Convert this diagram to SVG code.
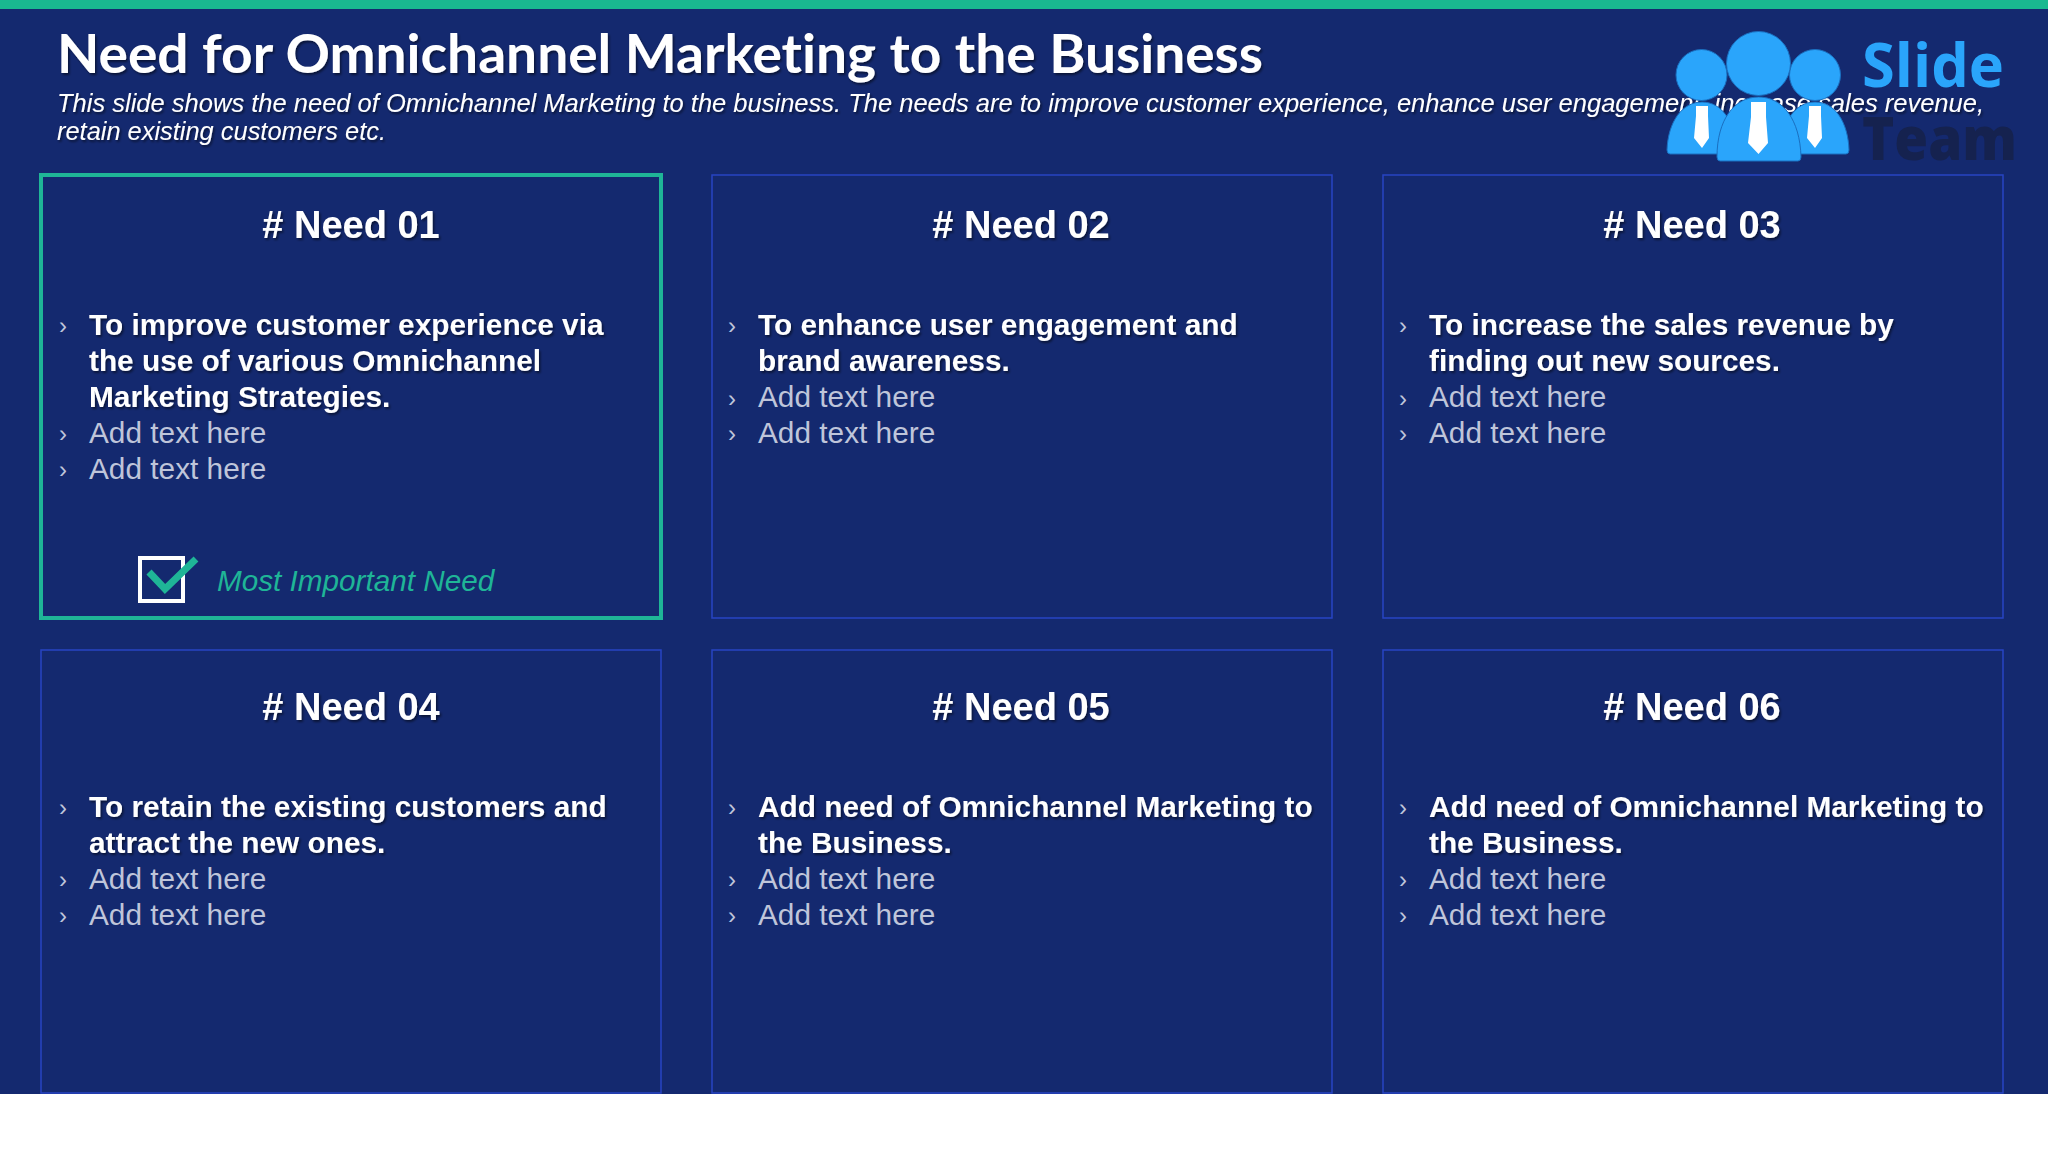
<svg xmlns="http://www.w3.org/2000/svg" width="2048" height="1152" viewBox="0 0 2048 1152">
<defs>
<filter id="sh" x="-5%" y="-20%" width="110%" height="150%"><feDropShadow dx="1.5" dy="2" stdDeviation="1.2" flood-color="#000" flood-opacity="0.5"/></filter>
</defs>
<style>
.card{fill:#14296f;stroke:#2744c4;stroke-width:1.5}
.hd{font:bold 38px "Liberation Sans",Arial,sans-serif;fill:#fff;text-anchor:middle;filter:url(#sh)}
.b{font:bold 29.8px "Liberation Sans",Arial,sans-serif;fill:#fff;filter:url(#sh)}
.a{font:29.8px "Liberation Sans",Arial,sans-serif;fill:#bfc5da}
.m{font:24px "Liberation Sans",Arial,sans-serif;fill:#bfc5da}
.sub{font:italic 26px "Liberation Sans",Arial,sans-serif;fill:#fff;filter:url(#sh)}
.logo{fill:#2aa5fb;stroke:#1a6fc0;stroke-width:1}
</style>
<rect width="2048" height="1152" fill="#fff"/>
<rect width="2048" height="1094" fill="#14296f"/>
<rect width="2048" height="9" fill="#19b890"/>
<g id="title">
<text x="57" y="73" font-family="Lato,'Open Sans',sans-serif" font-weight="700" font-size="54" fill="#fff" textLength="1206" lengthAdjust="spacingAndGlyphs" style="font-variant-ligatures:none" filter="url(#sh)">Need for Omnichannel Marketing to the Business</text>
<text class="sub" x="57" y="112" textLength="1927" lengthAdjust="spacingAndGlyphs">This slide shows the need of Omnichannel Marketing to the business. The needs are to improve customer experience, enhance user engagement, increase sales revenue,</text>
<text class="sub" x="57" y="140" textLength="329" lengthAdjust="spacingAndGlyphs">retain existing customers etc.</text>
</g>
<g id="need-01">
<rect x="41" y="175" width="620" height="443" fill="#14296f" stroke="#1fb597" stroke-width="4"/>
<text class="hd" x="351" y="238"># Need 01</text>
<text class="m" x="59" y="334">›</text><text class="b" x="89" y="335">To improve customer experience via</text>
<text class="b" x="89" y="371">the use of various Omnichannel</text>
<text class="b" x="89" y="407">Marketing Strategies.</text>
<text class="m" x="59" y="442">›</text><text class="a" x="89" y="443">Add text here</text>
<text class="m" x="59" y="478">›</text><text class="a" x="89" y="479">Add text here</text>
<rect x="140" y="558" width="43" height="43" fill="none" stroke="#fff" stroke-width="4"/>
<path d="M149 572L165 589L196 559" fill="none" stroke="#1fb597" stroke-width="7"/>
<text x="217" y="591" font-family="'Liberation Sans',Arial,sans-serif" font-style="italic" font-size="29.7" fill="#1fb597">Most Important Need</text>
</g>
<g id="need-02">
<rect class="card" x="712" y="175" width="620" height="443"/>
<text class="hd" x="1021" y="238"># Need 02</text>
<text class="m" x="728" y="334">›</text><text class="b" x="758" y="335">To enhance user engagement and</text>
<text class="b" x="758" y="371">brand awareness.</text>
<text class="m" x="728" y="407">›</text><text class="a" x="758" y="407">Add text here</text>
<text class="m" x="728" y="442">›</text><text class="a" x="758" y="443">Add text here</text>
</g>
<g id="need-03">
<rect class="card" x="1383" y="175" width="620" height="443"/>
<text class="hd" x="1692" y="238"># Need 03</text>
<text class="m" x="1399" y="334">›</text><text class="b" x="1429" y="335">To increase the sales revenue by</text>
<text class="b" x="1429" y="371">finding out new sources.</text>
<text class="m" x="1399" y="407">›</text><text class="a" x="1429" y="407">Add text here</text>
<text class="m" x="1399" y="442">›</text><text class="a" x="1429" y="443">Add text here</text>
</g>
<g id="need-04">
<rect class="card" x="41" y="650" width="620" height="443"/>
<text class="hd" x="351" y="720"># Need 04</text>
<text class="m" x="59" y="816">›</text><text class="b" x="89" y="817">To retain the existing customers and</text>
<text class="b" x="89" y="853">attract the new ones.</text>
<text class="m" x="59" y="888">›</text><text class="a" x="89" y="889">Add text here</text>
<text class="m" x="59" y="924">›</text><text class="a" x="89" y="925">Add text here</text>
</g>
<g id="need-05">
<rect class="card" x="712" y="650" width="620" height="443"/>
<text class="hd" x="1021" y="720"># Need 05</text>
<text class="m" x="728" y="816">›</text><text class="b" x="758" y="817">Add need of Omnichannel Marketing to</text>
<text class="b" x="758" y="853">the Business.</text>
<text class="m" x="728" y="888">›</text><text class="a" x="758" y="889">Add text here</text>
<text class="m" x="728" y="924">›</text><text class="a" x="758" y="925">Add text here</text>
</g>
<g id="need-06">
<rect class="card" x="1383" y="650" width="620" height="443"/>
<text class="hd" x="1692" y="720"># Need 06</text>
<text class="m" x="1399" y="816">›</text><text class="b" x="1429" y="817">Add need of Omnichannel Marketing to</text>
<text class="b" x="1429" y="853">the Business.</text>
<text class="m" x="1399" y="888">›</text><text class="a" x="1429" y="889">Add text here</text>
<text class="m" x="1399" y="924">›</text><text class="a" x="1429" y="925">Add text here</text>
</g>
<g id="logo">
<circle class="logo" cx="1701.5" cy="75" r="25.5"/>
<circle class="logo" cx="1815" cy="75" r="25.5"/>
<path class="logo" d="M1670 154Q1667 154 1667 150C1668 122 1682 102 1702 102C1722 102 1736 122 1737 154Z"/>
<path class="logo" d="M1780 154C1781 122 1795 102 1815 102C1835 102 1848 122 1849 150Q1849 154 1846 154Z"/>
<path d="M1696 106H1708V116L1709 138L1702 148L1694 138L1696 116Z" fill="#fff"/>
<path d="M1809 106H1821V116L1822 138L1815 148L1807 138L1809 116Z" fill="#fff"/>
<circle class="logo" cx="1758.5" cy="63.5" r="32"/>
<path class="logo" d="M1720 161Q1717 161 1717 157C1717 120 1734 97 1758.5 97C1783 97 1800 120 1801 157Q1801 161 1798 161Z"/>
<path d="M1751 102H1766V117L1768 143L1758.5 154L1748 143L1751 117Z" fill="#fff"/>
<text x="1862" y="87" font-family="'Open Sans',sans-serif" font-weight="700" font-size="60" fill="#2aa5fb" textLength="142" lengthAdjust="spacingAndGlyphs">Slide</text>
<text x="1862" y="160" font-family="'Open Sans',sans-serif" font-weight="800" font-size="60" fill="#15224f" textLength="155" lengthAdjust="spacingAndGlyphs">Team</text>
</g>
</svg>
